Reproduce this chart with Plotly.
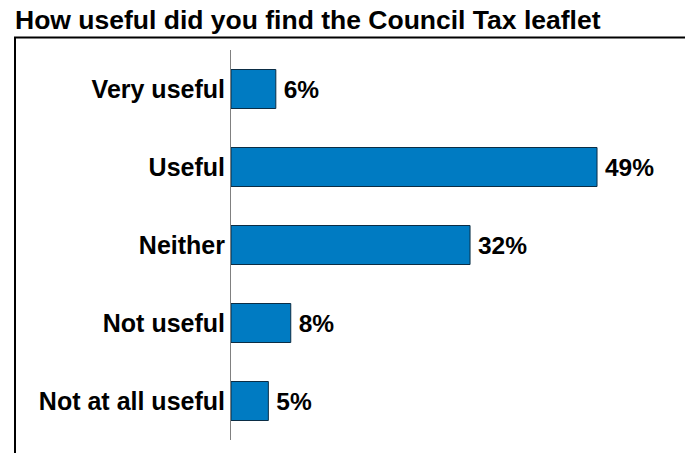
import plotly.graph_objects as go

categories = ["Very useful", "Useful", "Neither", "Not useful", "Not at all useful"]
values = [6, 49, 32, 8, 5]
value_labels = ["6%", "49%", "32%", "8%", "5%"]
title_text = "How useful did you find the Council Tax leaflet"

W, H = 685, 453
L, R, T, B = 231, 0, 50, 13
pw = W - L - R
ph = H - T - B
FONT = "Liberation Sans, Arial, sans-serif"

fig = go.Figure(go.Bar(
    y=categories, x=values, orientation="h",
    marker=dict(color="#007BC2", line=dict(color="#0b2d45", width=1)),
    text=["\u2009" + s for s in value_labels], textposition="outside", cliponaxis=False,
    textfont=dict(family=FONT, size=24.5, color="black", weight="bold"),
    width=0.5, hoverinfo="skip",
))

fig.update_layout(
    width=W, height=H,
    margin=dict(l=L, r=R, t=T, b=B, pad=0),
    paper_bgcolor="white", plot_bgcolor="white",
    showlegend=False,
    xaxis=dict(range=[0, pw / 7.47], visible=False, showgrid=False, zeroline=False),
    yaxis=dict(
        categoryorder="array", categoryarray=categories,
        range=[4.5, -0.5],
        showline=True, linecolor="#808080", linewidth=1,
        showgrid=False, zeroline=False, ticks="",
        ticklabelstandoff=0,
        tickfont=dict(family=FONT, size=25, color="black", weight="bold"),
    ),
    annotations=[dict(
        text=title_text, xref="paper", yref="paper",
        x=(13 - L) / pw, y=1 + (T - 20) / ph, xanchor="left", yanchor="middle",
        showarrow=False, font=dict(family=FONT, size=26.5, color="black", weight="bold"),
    )],
    shapes=[
        dict(type="line", xref="paper", yref="paper",
             x0=(14 - L) / pw, x1=1.01, y0=1 + (T - 37.5) / ph, y1=1 + (T - 37.5) / ph,
             line=dict(color="black", width=2)),
        dict(type="line", xref="paper", yref="paper",
             x0=(15 - L) / pw, x1=(15 - L) / pw, y0=1 + (T - 37.5) / ph, y1=-0.1,
             line=dict(color="black", width=2)),
    ],
)

fig.write_html("out.html", config={"displayModeBar": False},
               post_script="document.body.style.margin='0';document.body.style.overflow='hidden';")
